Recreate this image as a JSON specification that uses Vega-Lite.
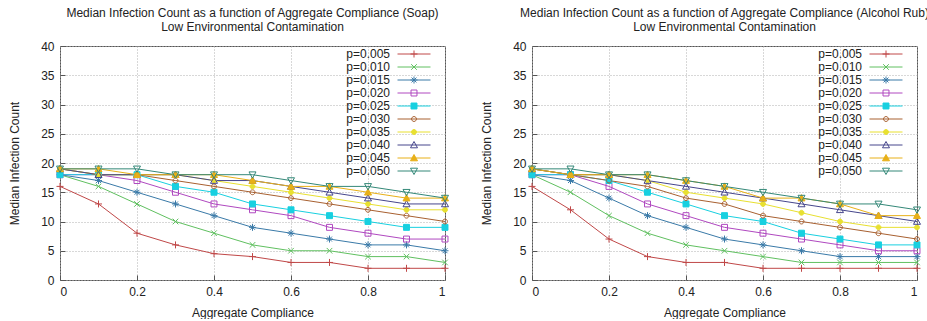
{
  "$schema": "https://vega.github.io/schema/vega-lite/v6.json",
  "padding": {"left": 8, "top": 6, "right": 0, "bottom": 0},
  "background": "white",
  "spacing": 29,
  "config": {
    "view": {"stroke": "#555555", "strokeWidth": 1},
    "font": "Liberation Sans",
    "axis": {
      "labelFont": "Liberation Sans", "labelFontSize": 12, "labelColor": "#222222",
      "titleFont": "Liberation Sans", "titleFontSize": 12, "titleFontWeight": "normal", "titleColor": "#222222",
      "grid": true, "gridColor": "#b0b0b0", "gridDash": [1, 2], "gridWidth": 1,
      "domain": false, "ticks": true, "tickColor": "#555555", "tickSize": -5
    },
    "legend": {"labelFont": "Liberation Sans", "labelFontSize": 12, "labelColor": "#222222"}
  },
  "resolve": {
    "scale": {"color": "independent", "stroke": "independent", "fill": "independent", "shape": "independent"},
    "legend": {"color": "independent", "stroke": "independent", "fill": "independent", "shape": "independent"}
  },
  "datasets": {
    "soap": [
      {"p":"0.005","compliance":0,"count":16},{"p":"0.005","compliance":0.1,"count":13},{"p":"0.005","compliance":0.2,"count":8},{"p":"0.005","compliance":0.3,"count":6},{"p":"0.005","compliance":0.4,"count":4.5},{"p":"0.005","compliance":0.5,"count":4},{"p":"0.005","compliance":0.6,"count":3},{"p":"0.005","compliance":0.7,"count":3},{"p":"0.005","compliance":0.8,"count":2},{"p":"0.005","compliance":0.9,"count":2},{"p":"0.005","compliance":1,"count":2},
      {"p":"0.010","compliance":0,"count":18},{"p":"0.010","compliance":0.1,"count":16},{"p":"0.010","compliance":0.2,"count":13},{"p":"0.010","compliance":0.3,"count":10},{"p":"0.010","compliance":0.4,"count":8},{"p":"0.010","compliance":0.5,"count":6},{"p":"0.010","compliance":0.6,"count":5},{"p":"0.010","compliance":0.7,"count":5},{"p":"0.010","compliance":0.8,"count":4},{"p":"0.010","compliance":0.9,"count":4},{"p":"0.010","compliance":1,"count":3},
      {"p":"0.015","compliance":0,"count":18},{"p":"0.015","compliance":0.1,"count":17},{"p":"0.015","compliance":0.2,"count":15},{"p":"0.015","compliance":0.3,"count":13},{"p":"0.015","compliance":0.4,"count":11},{"p":"0.015","compliance":0.5,"count":9},{"p":"0.015","compliance":0.6,"count":8},{"p":"0.015","compliance":0.7,"count":7},{"p":"0.015","compliance":0.8,"count":6},{"p":"0.015","compliance":0.9,"count":6},{"p":"0.015","compliance":1,"count":5},
      {"p":"0.020","compliance":0,"count":18},{"p":"0.020","compliance":0.1,"count":18},{"p":"0.020","compliance":0.2,"count":17},{"p":"0.020","compliance":0.3,"count":15},{"p":"0.020","compliance":0.4,"count":13},{"p":"0.020","compliance":0.5,"count":12},{"p":"0.020","compliance":0.6,"count":11},{"p":"0.020","compliance":0.7,"count":9},{"p":"0.020","compliance":0.8,"count":8},{"p":"0.020","compliance":0.9,"count":7},{"p":"0.020","compliance":1,"count":7},
      {"p":"0.025","compliance":0,"count":18},{"p":"0.025","compliance":0.1,"count":18},{"p":"0.025","compliance":0.2,"count":18},{"p":"0.025","compliance":0.3,"count":16},{"p":"0.025","compliance":0.4,"count":15},{"p":"0.025","compliance":0.5,"count":13},{"p":"0.025","compliance":0.6,"count":12},{"p":"0.025","compliance":0.7,"count":11},{"p":"0.025","compliance":0.8,"count":10},{"p":"0.025","compliance":0.9,"count":9},{"p":"0.025","compliance":1,"count":9},
      {"p":"0.030","compliance":0,"count":19},{"p":"0.030","compliance":0.1,"count":18},{"p":"0.030","compliance":0.2,"count":18},{"p":"0.030","compliance":0.3,"count":17},{"p":"0.030","compliance":0.4,"count":16},{"p":"0.030","compliance":0.5,"count":15},{"p":"0.030","compliance":0.6,"count":14},{"p":"0.030","compliance":0.7,"count":13},{"p":"0.030","compliance":0.8,"count":12},{"p":"0.030","compliance":0.9,"count":11},{"p":"0.030","compliance":1,"count":10},
      {"p":"0.035","compliance":0,"count":19},{"p":"0.035","compliance":0.1,"count":18},{"p":"0.035","compliance":0.2,"count":18},{"p":"0.035","compliance":0.3,"count":18},{"p":"0.035","compliance":0.4,"count":17},{"p":"0.035","compliance":0.5,"count":16},{"p":"0.035","compliance":0.6,"count":15},{"p":"0.035","compliance":0.7,"count":14},{"p":"0.035","compliance":0.8,"count":13},{"p":"0.035","compliance":0.9,"count":12},{"p":"0.035","compliance":1,"count":12},
      {"p":"0.040","compliance":0,"count":19},{"p":"0.040","compliance":0.1,"count":18},{"p":"0.040","compliance":0.2,"count":18},{"p":"0.040","compliance":0.3,"count":18},{"p":"0.040","compliance":0.4,"count":17},{"p":"0.040","compliance":0.5,"count":17},{"p":"0.040","compliance":0.6,"count":16},{"p":"0.040","compliance":0.7,"count":15},{"p":"0.040","compliance":0.8,"count":14},{"p":"0.040","compliance":0.9,"count":13},{"p":"0.040","compliance":1,"count":13},
      {"p":"0.045","compliance":0,"count":19},{"p":"0.045","compliance":0.1,"count":19},{"p":"0.045","compliance":0.2,"count":18},{"p":"0.045","compliance":0.3,"count":18},{"p":"0.045","compliance":0.4,"count":18},{"p":"0.045","compliance":0.5,"count":17},{"p":"0.045","compliance":0.6,"count":16},{"p":"0.045","compliance":0.7,"count":16},{"p":"0.045","compliance":0.8,"count":15},{"p":"0.045","compliance":0.9,"count":14},{"p":"0.045","compliance":1,"count":14},
      {"p":"0.050","compliance":0,"count":19},{"p":"0.050","compliance":0.1,"count":19},{"p":"0.050","compliance":0.2,"count":19},{"p":"0.050","compliance":0.3,"count":18},{"p":"0.050","compliance":0.4,"count":18},{"p":"0.050","compliance":0.5,"count":18},{"p":"0.050","compliance":0.6,"count":17},{"p":"0.050","compliance":0.7,"count":16},{"p":"0.050","compliance":0.8,"count":16},{"p":"0.050","compliance":0.9,"count":15},{"p":"0.050","compliance":1,"count":14}
    ],
    "alcohol": [
      {"p":"0.005","compliance":0,"count":16},{"p":"0.005","compliance":0.1,"count":12},{"p":"0.005","compliance":0.2,"count":7},{"p":"0.005","compliance":0.3,"count":4},{"p":"0.005","compliance":0.4,"count":3},{"p":"0.005","compliance":0.5,"count":3},{"p":"0.005","compliance":0.6,"count":2},{"p":"0.005","compliance":0.7,"count":2},{"p":"0.005","compliance":0.8,"count":2},{"p":"0.005","compliance":0.9,"count":2},{"p":"0.005","compliance":1,"count":2},
      {"p":"0.010","compliance":0,"count":18},{"p":"0.010","compliance":0.1,"count":15},{"p":"0.010","compliance":0.2,"count":11},{"p":"0.010","compliance":0.3,"count":8},{"p":"0.010","compliance":0.4,"count":6},{"p":"0.010","compliance":0.5,"count":5},{"p":"0.010","compliance":0.6,"count":4},{"p":"0.010","compliance":0.7,"count":3},{"p":"0.010","compliance":0.8,"count":3},{"p":"0.010","compliance":0.9,"count":3},{"p":"0.010","compliance":1,"count":3},
      {"p":"0.015","compliance":0,"count":18},{"p":"0.015","compliance":0.1,"count":17},{"p":"0.015","compliance":0.2,"count":14},{"p":"0.015","compliance":0.3,"count":11},{"p":"0.015","compliance":0.4,"count":9},{"p":"0.015","compliance":0.5,"count":7},{"p":"0.015","compliance":0.6,"count":6},{"p":"0.015","compliance":0.7,"count":5},{"p":"0.015","compliance":0.8,"count":4},{"p":"0.015","compliance":0.9,"count":4},{"p":"0.015","compliance":1,"count":4},
      {"p":"0.020","compliance":0,"count":18},{"p":"0.020","compliance":0.1,"count":18},{"p":"0.020","compliance":0.2,"count":16},{"p":"0.020","compliance":0.3,"count":13},{"p":"0.020","compliance":0.4,"count":11},{"p":"0.020","compliance":0.5,"count":9},{"p":"0.020","compliance":0.6,"count":8},{"p":"0.020","compliance":0.7,"count":7},{"p":"0.020","compliance":0.8,"count":6},{"p":"0.020","compliance":0.9,"count":5},{"p":"0.020","compliance":1,"count":5},
      {"p":"0.025","compliance":0,"count":18},{"p":"0.025","compliance":0.1,"count":18},{"p":"0.025","compliance":0.2,"count":17},{"p":"0.025","compliance":0.3,"count":15},{"p":"0.025","compliance":0.4,"count":13},{"p":"0.025","compliance":0.5,"count":11},{"p":"0.025","compliance":0.6,"count":10},{"p":"0.025","compliance":0.7,"count":8},{"p":"0.025","compliance":0.8,"count":7},{"p":"0.025","compliance":0.9,"count":6},{"p":"0.025","compliance":1,"count":6},
      {"p":"0.030","compliance":0,"count":19},{"p":"0.030","compliance":0.1,"count":18},{"p":"0.030","compliance":0.2,"count":17},{"p":"0.030","compliance":0.3,"count":16},{"p":"0.030","compliance":0.4,"count":14},{"p":"0.030","compliance":0.5,"count":13},{"p":"0.030","compliance":0.6,"count":11},{"p":"0.030","compliance":0.7,"count":10},{"p":"0.030","compliance":0.8,"count":9},{"p":"0.030","compliance":0.9,"count":8},{"p":"0.030","compliance":1,"count":7},
      {"p":"0.035","compliance":0,"count":19},{"p":"0.035","compliance":0.1,"count":18},{"p":"0.035","compliance":0.2,"count":18},{"p":"0.035","compliance":0.3,"count":17},{"p":"0.035","compliance":0.4,"count":15},{"p":"0.035","compliance":0.5,"count":14},{"p":"0.035","compliance":0.6,"count":13},{"p":"0.035","compliance":0.7,"count":11.5},{"p":"0.035","compliance":0.8,"count":10},{"p":"0.035","compliance":0.9,"count":9},{"p":"0.035","compliance":1,"count":9},
      {"p":"0.040","compliance":0,"count":19},{"p":"0.040","compliance":0.1,"count":18},{"p":"0.040","compliance":0.2,"count":18},{"p":"0.040","compliance":0.3,"count":17},{"p":"0.040","compliance":0.4,"count":16},{"p":"0.040","compliance":0.5,"count":15},{"p":"0.040","compliance":0.6,"count":14},{"p":"0.040","compliance":0.7,"count":13},{"p":"0.040","compliance":0.8,"count":12},{"p":"0.040","compliance":0.9,"count":11},{"p":"0.040","compliance":1,"count":10},
      {"p":"0.045","compliance":0,"count":19},{"p":"0.045","compliance":0.1,"count":18},{"p":"0.045","compliance":0.2,"count":18},{"p":"0.045","compliance":0.3,"count":18},{"p":"0.045","compliance":0.4,"count":17},{"p":"0.045","compliance":0.5,"count":16},{"p":"0.045","compliance":0.6,"count":14},{"p":"0.045","compliance":0.7,"count":14},{"p":"0.045","compliance":0.8,"count":13},{"p":"0.045","compliance":0.9,"count":11},{"p":"0.045","compliance":1,"count":11},
      {"p":"0.050","compliance":0,"count":19},{"p":"0.050","compliance":0.1,"count":19},{"p":"0.050","compliance":0.2,"count":18},{"p":"0.050","compliance":0.3,"count":18},{"p":"0.050","compliance":0.4,"count":17},{"p":"0.050","compliance":0.5,"count":16},{"p":"0.050","compliance":0.6,"count":15},{"p":"0.050","compliance":0.7,"count":14},{"p":"0.050","compliance":0.8,"count":13},{"p":"0.050","compliance":0.9,"count":13},{"p":"0.050","compliance":1,"count":12}
    ]
  },
  "hconcat": [
    {
      "data": {"name": "soap"},
      "width": 385, "height": 234,
      "title": {"text": ["Median Infection Count as a function of Aggregate Compliance (Soap)", "Low Environmental Contamination"], "frame": "group", "anchor": "middle", "font": "Liberation Sans", "fontSize": 12, "fontWeight": "normal", "color": "#222222", "lineHeight": 14, "offset": 6},
      "encoding": {
        "x": {"field": "compliance", "type": "quantitative", "scale": {"domain": [0, 1], "nice": false}, "axis": {"values": [0, 0.2, 0.4, 0.6, 0.8, 1], "format": "~g", "title": "Aggregate Compliance", "labelPadding": 11, "titlePadding": 10}},
        "y": {"field": "count", "type": "quantitative", "scale": {"domain": [0, 40], "nice": false}, "axis": {"values": [0, 5, 10, 15, 20, 25, 30, 35, 40], "title": "Median Infection Count", "labelPadding": 11, "titlePadding": 19}}
      },
      "layer": [
        {"mark": {"type": "line", "strokeWidth": 1},
          "encoding": {
            "color": {"field": "p", "type": "nominal",
              "scale": {"domain": ["0.005","0.010","0.015","0.020","0.025","0.030","0.035","0.040","0.045","0.050"], "range": ["#c04848","#60c060","#3a7aa8","#b048c0","#18d0e0","#a86030","#e8e030","#46468c","#e8b018","#348878"]},
              "legend": {"orient": "none", "legendX": 348, "legendY": 2, "title": null, "padding": 0, "symbolType": "M-4.71,0L4.71,0", "symbolSize": 49, "symbolStrokeWidth": 1, "symbolOpacity": 1, "rowPadding": 1, "labelAlign": "right", "labelOffset": -30, "labelExpr": "'p=' + datum.label"}
            }
          }
        },
        {"mark": {"type": "point", "filled": false, "size": 49, "strokeWidth": 1, "opacity": 1},
          "encoding": {
            "stroke": {"field": "p", "type": "nominal", "scale": {"range": ["#c04848","#60c060","#3a7aa8","#b048c0","#18d0e0","#a86030","#e8e030","#46468c","#e8b018","#348878"]},
              "legend": {"orient": "none", "legendX": 348, "legendY": 2, "title": null, "padding": 0, "symbolSize": 49, "symbolStrokeWidth": 1, "symbolOpacity": 1, "rowPadding": 1, "labelAlign": "right", "labelOffset": -30, "labelExpr": "'p=' + datum.label", "labelOpacity": 0}},
            "fill": {"field": "p", "type": "nominal", "scale": {"range": ["transparent","transparent","transparent","transparent","#18d0e0","transparent","#e8e030","transparent","#e8b018","transparent"]},
              "legend": {"orient": "none", "legendX": 348, "legendY": 2, "title": null, "padding": 0, "symbolSize": 49, "symbolStrokeWidth": 1, "symbolOpacity": 1, "rowPadding": 1, "labelAlign": "right", "labelOffset": -30, "labelExpr": "'p=' + datum.label", "labelOpacity": 0}},
            "shape": {"field": "p", "type": "nominal", "scale": {"range": ["M-1,0L1,0M0,-1L0,1","M-0.8,-0.8L0.8,0.8M-0.8,0.8L0.8,-0.8","M-1,0L1,0M0,-1L0,1M-0.7,-0.7L0.7,0.7M-0.7,0.7L0.7,-0.7","M-0.85,-0.85L0.85,-0.85L0.85,0.85L-0.85,0.85Z","M-0.85,-0.85L0.85,-0.85L0.85,0.85L-0.85,0.85Z","M-0.7,0A0.7,0.7,0,1,1,0.7,0A0.7,0.7,0,1,1,-0.7,0Z","M-0.7,0A0.7,0.7,0,1,1,0.7,0A0.7,0.7,0,1,1,-0.7,0Z","M0,-1L1,0.8L-1,0.8Z","M0,-1L1,0.8L-1,0.8Z","M0,1L1,-0.8L-1,-0.8Z"]},
              "legend": {"orient": "none", "legendX": 348, "legendY": 2, "title": null, "padding": 0, "symbolSize": 49, "symbolStrokeWidth": 1, "symbolOpacity": 1, "rowPadding": 1, "labelAlign": "right", "labelOffset": -30, "labelExpr": "'p=' + datum.label", "labelOpacity": 0}}
          }
        }
      ]
    },
    {
      "data": {"name": "alcohol"},
      "width": 385, "height": 234,
      "title": {"text": ["Median Infection Count as a function of Aggregate Compliance (Alcohol Rub)", "Low Environmental Contamination"], "frame": "group", "anchor": "middle", "font": "Liberation Sans", "fontSize": 12, "fontWeight": "normal", "color": "#222222", "lineHeight": 14, "offset": 6},
      "encoding": {
        "x": {"field": "compliance", "type": "quantitative", "scale": {"domain": [0, 1], "nice": false}, "axis": {"values": [0, 0.2, 0.4, 0.6, 0.8, 1], "format": "~g", "title": "Aggregate Compliance", "labelPadding": 11, "titlePadding": 10}},
        "y": {"field": "count", "type": "quantitative", "scale": {"domain": [0, 40], "nice": false}, "axis": {"values": [0, 5, 10, 15, 20, 25, 30, 35, 40], "title": "Median Infection Count", "labelPadding": 11, "titlePadding": 19}}
      },
      "layer": [
        {"mark": {"type": "line", "strokeWidth": 1},
          "encoding": {
            "color": {"field": "p", "type": "nominal",
              "scale": {"domain": ["0.005","0.010","0.015","0.020","0.025","0.030","0.035","0.040","0.045","0.050"], "range": ["#c04848","#60c060","#3a7aa8","#b048c0","#18d0e0","#a86030","#e8e030","#46468c","#e8b018","#348878"]},
              "legend": {"orient": "none", "legendX": 348, "legendY": 2, "title": null, "padding": 0, "symbolType": "M-4.71,0L4.71,0", "symbolSize": 49, "symbolStrokeWidth": 1, "symbolOpacity": 1, "rowPadding": 1, "labelAlign": "right", "labelOffset": -30, "labelExpr": "'p=' + datum.label"}
            }
          }
        },
        {"mark": {"type": "point", "filled": false, "size": 49, "strokeWidth": 1, "opacity": 1},
          "encoding": {
            "stroke": {"field": "p", "type": "nominal", "scale": {"range": ["#c04848","#60c060","#3a7aa8","#b048c0","#18d0e0","#a86030","#e8e030","#46468c","#e8b018","#348878"]},
              "legend": {"orient": "none", "legendX": 348, "legendY": 2, "title": null, "padding": 0, "symbolSize": 49, "symbolStrokeWidth": 1, "symbolOpacity": 1, "rowPadding": 1, "labelAlign": "right", "labelOffset": -30, "labelExpr": "'p=' + datum.label", "labelOpacity": 0}},
            "fill": {"field": "p", "type": "nominal", "scale": {"range": ["transparent","transparent","transparent","transparent","#18d0e0","transparent","#e8e030","transparent","#e8b018","transparent"]},
              "legend": {"orient": "none", "legendX": 348, "legendY": 2, "title": null, "padding": 0, "symbolSize": 49, "symbolStrokeWidth": 1, "symbolOpacity": 1, "rowPadding": 1, "labelAlign": "right", "labelOffset": -30, "labelExpr": "'p=' + datum.label", "labelOpacity": 0}},
            "shape": {"field": "p", "type": "nominal", "scale": {"range": ["M-1,0L1,0M0,-1L0,1","M-0.8,-0.8L0.8,0.8M-0.8,0.8L0.8,-0.8","M-1,0L1,0M0,-1L0,1M-0.7,-0.7L0.7,0.7M-0.7,0.7L0.7,-0.7","M-0.85,-0.85L0.85,-0.85L0.85,0.85L-0.85,0.85Z","M-0.85,-0.85L0.85,-0.85L0.85,0.85L-0.85,0.85Z","M-0.7,0A0.7,0.7,0,1,1,0.7,0A0.7,0.7,0,1,1,-0.7,0Z","M-0.7,0A0.7,0.7,0,1,1,0.7,0A0.7,0.7,0,1,1,-0.7,0Z","M0,-1L1,0.8L-1,0.8Z","M0,-1L1,0.8L-1,0.8Z","M0,1L1,-0.8L-1,-0.8Z"]},
              "legend": {"orient": "none", "legendX": 348, "legendY": 2, "title": null, "padding": 0, "symbolSize": 49, "symbolStrokeWidth": 1, "symbolOpacity": 1, "rowPadding": 1, "labelAlign": "right", "labelOffset": -30, "labelExpr": "'p=' + datum.label", "labelOpacity": 0}}
          }
        }
      ]
    }
  ]
}
